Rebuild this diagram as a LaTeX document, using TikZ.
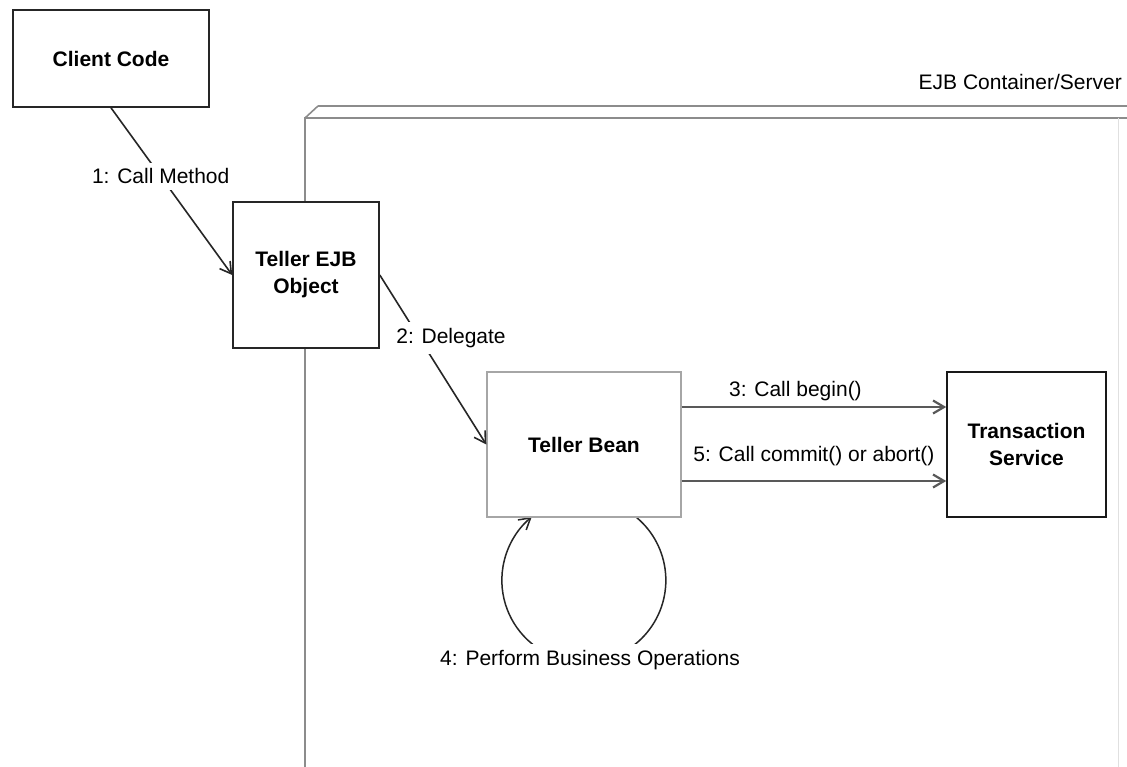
\documentclass[tikz,border=0pt]{standalone}
\usepackage{fontspec}
\setmainfont{Liberation Sans}
\usetikzlibrary{arrows.meta,calc}

\tikzset{
  box/.style={draw=black!85, line width=1.6pt, fill=white, align=center,
    font=\fontsize{21}{27}\selectfont\bfseries, inner sep=0pt},
  softbox/.style={box, draw=black!35, line width=1.4pt},
  msg/.style={draw=black!85, line width=1.6pt,
    -{Straight Barb[length=11pt,width=13pt]}},
  flow/.style={msg, draw=black!65, line width=2.2pt},
  lbl/.style={font=\fontsize{21}{27}\selectfont, inner sep=2pt},
  cutlbl/.style={lbl, fill=white, inner xsep=2pt, inner ysep=6pt},
  wall/.style={draw=black!45, line width=1.6pt},
}

\begin{document}
\begin{tikzpicture}[x=1pt, y=-1pt]
  \useasboundingbox[fill=white] (0,0) rectangle (1127,767);

  % container/server (3D node outline, runs off the page)
  \draw[wall] (318,106) -- (1127,106);
  \draw[wall] (1127,118) -- (305,118) -- (305,767);
  \draw[wall] (305,118) -- (318,106);
  \draw[black!12, line width=1pt] (1118,118) -- (1118,767);
  \node[lbl, anchor=east] (server) at (1124,82) {EJB Container/Server};

  % participants
  \node[box, minimum width=196pt, minimum height=97pt] (client) at (111,58.5) {Client Code};
  \node[box, minimum width=146pt, minimum height=146pt] (ejb) at (306,275) {Teller EJB\\Object};
  \node[box, draw=black!90, minimum width=159pt, minimum height=145pt] (ts) at (1026.5,444.5) {Transaction\\Service};

  % 4: self call loop, drawn before the bean box so the box hides its top
  \draw[msg, line width=1.5pt] ($(584,444.5)+(52,72.5)$) arc[start angle=50.5, end angle=-230.5, radius=82pt];
  \node[softbox, minimum width=194pt, minimum height=145pt] (bean) at (584,444.5) {Teller Bean};
  \node[cutlbl] (op4) at (590,660) {4: Perform Business Operations};

  % messages
  \draw[msg] (client.south) -- coordinate[pos=0.41] (m1c) (ejb.west);
  \node[cutlbl] (m1) at (m1c) {1: Call Method};
  \draw[msg] (ejb.east) -- (bean.west);
  \node[cutlbl] (m2) at (451,338) {2: Delegate};

  \draw[flow] ([yshift=37.5pt]bean.east) -- node[lbl, above=3pt, pos=0.43] (m3) {3: Call begin()} ([yshift=37.5pt]ts.west);
  \draw[flow] ([yshift=-36.5pt]bean.east) -- node[lbl, above=12pt, pos=0.5] (m5) {5: Call commit() or abort()} ([yshift=-36.5pt]ts.west);
\end{tikzpicture}
\end{document}
